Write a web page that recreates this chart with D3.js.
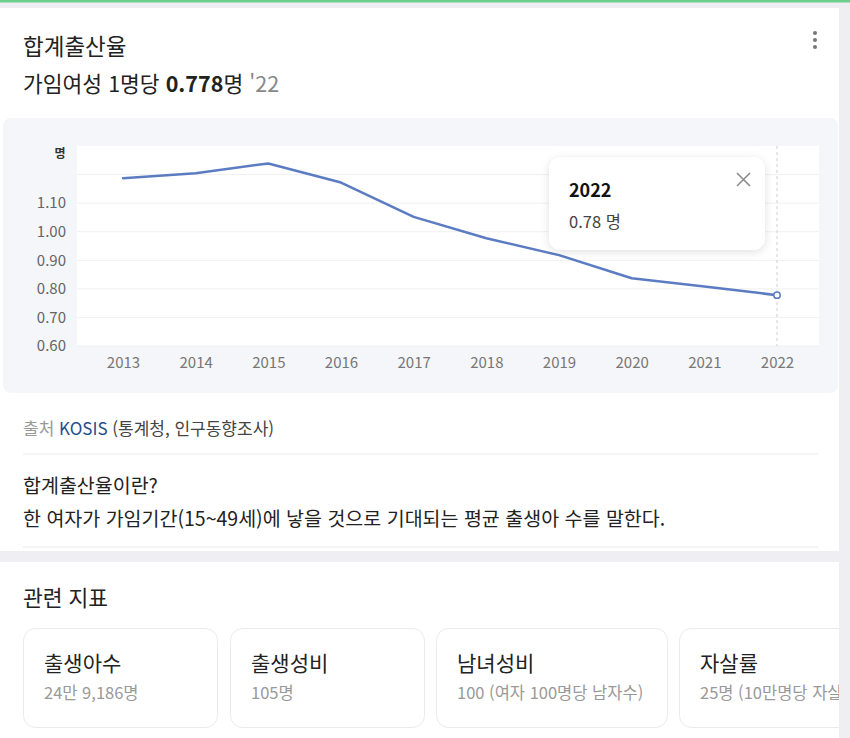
<!DOCTYPE html>
<html lang="ko">
<head>
<meta charset="utf-8">
<script src="https://cdn.jsdelivr.net/npm/d3@7"></script>
<style>
  html, body { margin: 0; padding: 0; background: #efeff3; }
  svg { display: block; font-family: "Noto Sans CJK KR", "Noto Sans", sans-serif; }
</style>
</head>
<body>
<svg id="chart" width="850" height="738"></svg>
<script>
// ---- data ----
const years = [2013, 2014, 2015, 2016, 2017, 2018, 2019, 2020, 2021, 2022];
const fertility = [1.187, 1.205, 1.239, 1.172, 1.052, 0.977, 0.918, 0.837, 0.808, 0.778];
const yTicks = [0.6, 0.7, 0.8, 0.9, 1.0, 1.1];
const gridValues = [0.6, 0.7, 0.8, 0.9, 1.0, 1.1, 1.2];
const title = "합계출산율";
const headline = { pre: "가임여성 1명당 ", value: "0.778", unit: "명", year: " '22" };
const yUnit = "명";
const tooltip = { year: "2022", value: "0.78 명" };
const source = { label: "출처", org: "KOSIS", detail: "(통계청, 인구동향조사)" };
const defTitle = "합계출산율이란?";
const defText = "한 여자가 가임기간(15~49세)에 낳을 것으로 기대되는 평균 출생아 수를 말한다.";
const relatedTitle = "관련 지표";
const relatedNames = ["출생아수", "출생성비", "남녀성비", "자살률"];
const relatedValues = ["24만 9,186명", "105명", "100 (여자 100명당 남자수)", "25명 (10만명당 자살률)"];

const svg = d3.select("#chart");

// shadow filter
const defs = svg.append("defs");
const f = defs.append("filter").attr("id", "shadow").attr("x", "-20%").attr("y", "-30%").attr("width", "140%").attr("height", "170%");
f.append("feDropShadow").attr("dx", 0).attr("dy", 2).attr("stdDeviation", 4).attr("flood-color", "#000").attr("flood-opacity", 0.12);
const clip = defs.append("clipPath").attr("id", "pageclip");
clip.append("rect").attr("x", 0).attr("y", 0).attr("width", 839).attr("height", 738);

// page background & cards
svg.append("rect").attr("x", 0).attr("y", 0).attr("width", 850).attr("height", 738).attr("fill", "#efeff3");
svg.append("rect").attr("x", 0).attr("y", 0).attr("width", 850).attr("height", 2.5).attr("fill", "#6ccf8e");
svg.append("rect").attr("x", 0).attr("y", 8).attr("width", 839).attr("height", 543).attr("fill", "#fff");
svg.append("rect").attr("x", 0).attr("y", 562).attr("width", 839).attr("height", 190).attr("fill", "#fff");

// header
svg.append("text").attr("x", 23).attr("y", 45).attr("dominant-baseline", "central")
  .attr("font-size", 22.5).attr("fill", "#222").text(title);
const h = svg.append("text").attr("x", 23).attr("y", 82).attr("dominant-baseline", "central")
  .attr("font-size", 21.5).attr("fill", "#222");
h.append("tspan").text(headline.pre);
h.append("tspan").attr("font-weight", "bold").text(headline.value);
h.append("tspan").text(headline.unit);
h.append("tspan").attr("fill", "#888").text(headline.year);

// kebab menu
svg.append("g").selectAll("circle").data([0, 1, 2]).join("circle")
  .attr("cx", 815).attr("cy", d => 33 + d * 7).attr("r", 2).attr("fill", "#777");

// chart panel
svg.append("rect").attr("x", 3).attr("y", 118).attr("width", 835).attr("height", 275).attr("rx", 8).attr("fill", "#f5f6f9");

const plot = { left: 77, right: 819, top: 146, bottom: 346 };
svg.append("rect").attr("x", plot.left).attr("y", plot.top)
  .attr("width", plot.right - plot.left).attr("height", plot.bottom - plot.top).attr("fill", "#fff");

const x = d3.scalePoint().domain(years).range([123, 777]);
const y = d3.scaleLinear().domain([0.6, 1.3]).range([plot.bottom, plot.top]);

// grid
svg.append("g").selectAll("line").data(gridValues).join("line")
  .attr("x1", plot.left).attr("x2", plot.right)
  .attr("y1", d => y(d)).attr("y2", d => y(d))
  .attr("stroke", "#f0f0f2").attr("stroke-width", 1);

// y axis
const yAxis = svg.append("g").attr("transform", `translate(${plot.left - 11},0)`)
  .call(d3.axisLeft(y).tickValues(yTicks).tickFormat(d3.format(".2f")).tickSize(0).tickPadding(0));
yAxis.select(".domain").remove();
yAxis.selectAll("text").attr("font-size", 15).attr("fill", "#666").attr("font-family", "'Noto Sans CJK KR', sans-serif");

svg.append("text").attr("x", 60).attr("y", 152).attr("text-anchor", "middle").attr("dominant-baseline", "central")
  .attr("font-size", 12).attr("font-weight", "bold").attr("fill", "#333").text(yUnit);

// x axis
const xAxis = svg.append("g").attr("transform", `translate(0,${plot.bottom + 11})`)
  .call(d3.axisBottom(x).tickSize(0).tickPadding(0));
xAxis.select(".domain").remove();
xAxis.selectAll("text").attr("font-size", 15).attr("fill", "#777")
  .attr("font-family", "'Noto Sans CJK KR', sans-serif");

// selection dashed line
const last = years.length - 1;
svg.append("line").attr("x1", x(years[last])).attr("x2", x(years[last]))
  .attr("y1", plot.top).attr("y2", plot.bottom)
  .attr("stroke", "#cfcfd4").attr("stroke-dasharray", "3,3").attr("stroke-width", 1);

// line
const line = d3.line().x((d, i) => x(years[i])).y(d => y(d));
svg.append("path").datum(fertility).attr("d", line)
  .attr("fill", "none").attr("stroke", "#5b7cc2").attr("stroke-width", 2.5)
  .attr("stroke-linejoin", "round").attr("stroke-linecap", "round");

svg.append("circle").attr("cx", x(years[last])).attr("cy", y(fertility[last])).attr("r", 3.2)
  .attr("fill", "#fff").attr("stroke", "#5b7cc2").attr("stroke-width", 1.5);

// tooltip
const tt = svg.append("g").attr("transform", "translate(549,157)");
tt.append("rect").attr("width", 216).attr("height", 93).attr("rx", 12).attr("fill", "#fff").attr("filter", "url(#shadow)");
tt.append("text").attr("x", 20).attr("y", 32).attr("dominant-baseline", "central")
  .attr("font-size", 18).attr("font-weight", "bold").attr("fill", "#111").text(tooltip.year);
tt.append("text").attr("x", 20).attr("y", 64).attr("dominant-baseline", "central")
  .attr("font-size", 16.5).attr("fill", "#444").text(tooltip.value);
tt.append("path").attr("d", "M188,16 L201,29 M201,16 L188,29")
  .attr("stroke", "#888").attr("stroke-width", 1.5).attr("fill", "none");

// source
const s = svg.append("text").attr("x", 23).attr("y", 427).attr("dominant-baseline", "central").attr("font-size", 17);
s.append("tspan").attr("fill", "#999").text(source.label + "  ");
s.append("tspan").attr("fill", "#1f4e8c").text(source.org + " ");
s.append("tspan").attr("fill", "#444").text(source.detail);

svg.append("line").attr("x1", 23).attr("x2", 818).attr("y1", 454).attr("y2", 454).attr("stroke", "#ebebeb");

svg.append("text").attr("x", 23).attr("y", 484).attr("dominant-baseline", "central")
  .attr("font-size", 19.5).attr("fill", "#222").text(defTitle);
svg.append("text").attr("x", 23).attr("y", 517).attr("dominant-baseline", "central")
  .attr("font-size", 19.5).attr("fill", "#222").text(defText);

svg.append("line").attr("x1", 23).attr("x2", 818).attr("y1", 547).attr("y2", 547).attr("stroke", "#ebebeb");

// related
svg.append("text").attr("x", 23).attr("y", 596).attr("dominant-baseline", "central")
  .attr("font-size", 21.5).attr("fill", "#222").text(relatedTitle);

const cardX = [23, 230, 436, 679];
const cardW = [194, 194, 231, 194];
const cards = svg.append("g").attr("clip-path", "url(#pageclip)").selectAll("g").data(relatedNames).join("g")
  .attr("transform", (d, i) => `translate(${cardX[i]},628)`);
cards.append("rect").attr("x", 0.5).attr("y", 0.5).attr("width", (d, i) => cardW[i]).attr("height", 99)
  .attr("rx", 12).attr("fill", "#fff").attr("stroke", "#ebebeb");
cards.append("text").attr("x", 21).attr("y", 34).attr("dominant-baseline", "central")
  .attr("font-size", 21).attr("fill", "#222").text(d => d);
cards.append("text").attr("x", 21).attr("y", 64).attr("dominant-baseline", "central")
  .attr("font-size", 16.5).attr("fill", "#999").text((d, i) => relatedValues[i]);
</script>
</body>
</html>
